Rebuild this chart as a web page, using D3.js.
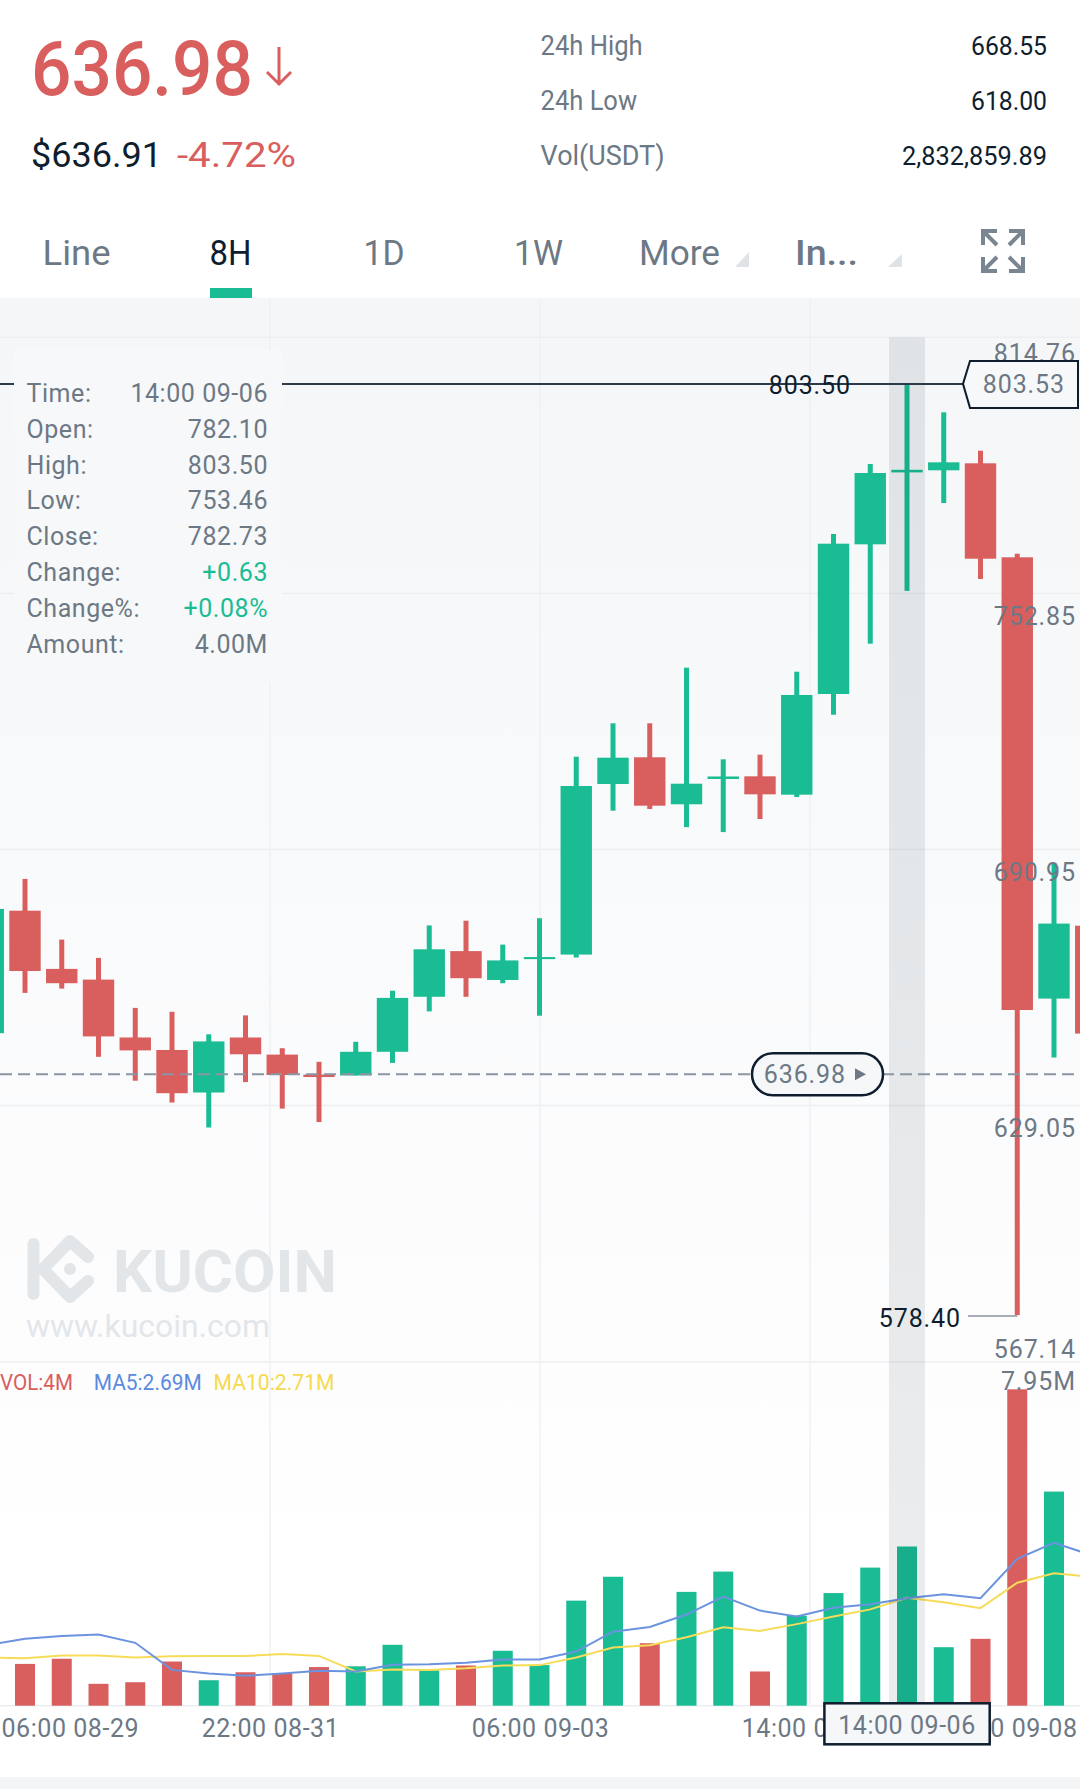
<!DOCTYPE html>
<html><head><meta charset="utf-8">
<script src="https://cdn.jsdelivr.net/npm/d3@7/dist/d3.min.js"></script>
<style>html,body{margin:0;padding:0;background:#fff}svg{display:block}text{font-family:Roboto,sans-serif}</style>
</head><body><div id="c"></div>
<script>
// candle index: -1 .. 29 (index 24 is the selected candle, 14:00 09-06)
const firstIndex = -1;
const opens  = [646.55,676.16,662.09,659.50,645.51,642.49,632.21,645.51,641.37,636.54,636.34,642.05,655.35,666.39,659.41,664.45,665.55,706.78,713.24,701.88,707.99,708.64,704.20,728.54,764.72,782.10,782.61,784.30,761.58,654.91,672.53];
const highs  = [676.57,683.84,669.17,664.75,652.66,651.72,646.28,650.85,642.92,639.63,644.47,656.82,672.60,673.74,667.96,674.34,713.38,721.46,721.46,734.90,712.75,713.87,733.93,767.21,784.13,803.50,796.63,787.35,762.45,687.71,680.00];
const lows   = [646.55,656.29,657.33,640.84,635.06,629.79,623.75,634.73,628.32,625.06,636.34,639.37,651.82,655.35,658.63,650.78,664.84,700.33,700.74,696.36,695.16,698.32,703.64,723.53,740.70,753.46,774.71,756.34,578.40,640.67,640.00];
const closes = [676.57,661.58,658.63,645.77,642.39,632.04,644.56,641.45,636.44,635.95,642.05,655.08,666.83,659.84,664.14,664.95,706.30,713.14,701.54,706.85,708.60,704.29,728.30,764.87,781.96,782.73,784.54,761.24,652.15,673.04,646.45];
const volumes = [0.90,1.05,1.18,0.55,0.59,1.11,0.64,0.84,0.82,0.97,0.99,1.53,0.89,1.01,1.38,1.02,2.64,3.24,1.57,2.86,3.37,0.86,2.26,2.83,3.47,4.00,1.47,1.68,7.95,5.38,2.20];
const volColors = ["r","r","r","r","r","r","g","r","r","r","g","g","g","r","g","g","g","g","r","g","g","r","g","g","g","g","g","r","r","g","r"];
const ma5  = [1.53,1.68,1.75,1.79,1.58,0.90,0.81,0.75,0.81,0.88,0.86,1.03,1.04,1.08,1.16,1.16,1.36,1.86,1.98,2.29,2.74,2.39,2.24,2.46,2.55,2.70,2.80,2.70,3.69,4.09,3.79];
const ma10 = [1.21,1.19,1.26,1.26,1.21,1.24,1.25,1.25,1.30,1.25,0.86,0.91,0.90,0.94,1.01,1.02,1.21,1.46,1.52,1.72,1.97,1.88,2.05,2.24,2.42,2.71,2.60,2.45,3.09,3.33,3.24];
const priceTicks = [814.76,752.85,690.95,629.05,567.14];
const timeTicks = ["06:00 08-29","22:00 08-31","06:00 09-03","14:00 09-06","22:00 09-08"];
const tooltipRows = [["Time:","14:00 09-06"],["Open:","782.10"],["High:","803.50"],["Low:","753.46"],["Close:","782.73"],["Change:","+0.63"],["Change%:","+0.08%"],["Amount:","4.00M"]];
const tabs = ["Line","8H","1D","1W","More","In..."];
const statLabels = ["24h High","24h Low","Vol(USDT)"];
const statValues = ["668.55","618.00","2,832,859.89"];

const GREEN="#1abc94",RED="#d95e5e",INK="#0e1e2e",GRAY="#6d7885";
const LS=0.55, LSP=0.9;
const svg=d3.select("#c").append("svg").attr("width",1080).attr("height",1789).attr("viewBox","0 0 1080 1789");
const defs=svg.append("defs");
const grad=defs.append("linearGradient").attr("id","bg").attr("x1",0).attr("x2",0).attr("y1",0).attr("y2",1);
[[0,"#f5f6f8"],[0.4,"#f9fafb"],[0.72,"#fdfdfe"],[0.85,"#ffffff"],[1,"#ffffff"]].forEach(s=>grad.append("stop").attr("offset",s[0]).attr("stop-color",s[1]));

const indices=d3.range(firstIndex,firstIndex+opens.length);
const x=d3.scaleLinear().domain([0,24]).range([25,907]);
const y=d3.scaleLinear().domain([814.76,567.14]).range([337.3,1361.7]);
const v=d3.scaleLinear().domain([0,7.95]).range([1705.7,1389.3]);
const tx=d3.scalePoint().domain(timeTicks).range([0,1080]);
const at=(a,i)=>a[i-firstIndex];

function t(g,str,o){
  const e=g.append("text").text(str).attr("x",o.x).attr("y",o.y).attr("font-size",o.s).attr("fill",o.c||INK)
   .attr("text-anchor",o.a||"start");
  if(o.w) e.attr("textLength",o.w).attr("lengthAdjust","spacingAndGlyphs");
  if(o.ls) e.attr("letter-spacing",o.ls);
  if(o.fw) e.attr("font-weight",o.fw);
  return e;
}

// panel background
svg.append("rect").attr("x",0).attr("y",298).attr("width",1080).attr("height",1479).attr("fill","url(#bg)");
svg.append("rect").attr("x",0).attr("y",1777).attr("width",1080).attr("height",12).attr("fill","#f4f5f7");

// grid
const grid=svg.append("g");
grid.selectAll(".h").data(priceTicks).join("line").attr("x1",0).attr("x2",1080).attr("y1",d=>y(d)).attr("y2",d=>y(d)).attr("stroke","#eceef2").attr("stroke-width",1.5);
grid.append("line").attr("x1",0).attr("x2",1080).attr("y1",v(0)).attr("y2",v(0)).attr("stroke","#eceef2").attr("stroke-width",1.5);
grid.selectAll(".v").data(timeTicks.slice(1,4)).join("line").attr("x1",d=>tx(d)).attr("x2",d=>tx(d)).attr("y1",298).attr("y2",v(0)).attr("stroke","#eef0f3").attr("stroke-width",1.5);

// watermark
const wm=svg.append("g");
wm.append("path").attr("d","M88 1257 L70 1241 L43 1269 L70 1297 L88 1281").attr("fill","none").attr("stroke","#e3e6e9").attr("stroke-width",12).attr("stroke-linejoin","round").attr("stroke-linecap","round");
wm.append("line").attr("x1",33.5).attr("x2",33.5).attr("y1",1244).attr("y2",1294).attr("stroke","#e3e6e9").attr("stroke-width",12).attr("stroke-linecap","round");
wm.append("circle").attr("cx",70).attr("cy",1269).attr("r",6).attr("fill","#e3e6e9");
t(wm,"KUCOIN",{x:113,y:1291.5,s:60,c:"#e3e6e9",w:224,fw:700});
t(wm,"www.kucoin.com",{x:26,y:1337,s:31,c:"#e3e6e9",w:244});

// candles
const cg=svg.append("g");
indices.forEach(i=>{
  const o=at(opens,i),c=at(closes,i),h=at(highs,i),l=at(lows,i);
  const col=c>=o?GREEN:RED;
  cg.append("rect").attr("x",x(i)-2.5).attr("width",5).attr("y",y(h)).attr("height",y(l)-y(h)).attr("fill",col);
  cg.append("rect").attr("x",x(i)-15.7).attr("width",31.4).attr("y",y(Math.max(o,c))).attr("height",Math.abs(y(o)-y(c))).attr("fill",col);
});

// volume bars
const vg=svg.append("g");
indices.filter(i=>i>=0).forEach(i=>{
  vg.append("rect").attr("x",x(i)-10).attr("width",20).attr("y",v(at(volumes,i))).attr("height",v(0)-v(at(volumes,i))).attr("fill",at(volColors,i)==="g"?GREEN:RED);
});
// MA lines
const line=d3.line().x(d=>x(d[0])).y(d=>v(d[1]));
svg.append("path").attr("d",line(indices.map(i=>[i,at(ma10,i)]))).attr("fill","none").attr("stroke","#f7dc5a").attr("stroke-width",2);
svg.append("path").attr("d",line(indices.map(i=>[i,at(ma5,i)]))).attr("fill","none").attr("stroke","#6b93e0").attr("stroke-width",2);

// selection band
svg.append("rect").attr("x",x(24)-18).attr("width",36).attr("y",y(814.76)).attr("height",v(0)-y(814.76)).attr("fill","rgba(10,40,50,0.085)");

// price axis
const axisY=d3.axisLeft(y).tickValues(priceTicks).tickSize(0).tickFormat(d3.format(".2f"));
const ay=svg.append("g").attr("transform","translate(1076,0)").call(axisY);
ay.select(".domain").remove();
ay.selectAll("text").attr("x",0).attr("font-size",25).attr("letter-spacing",LSP).attr("fill",GRAY).attr("font-family","Roboto")
  .attr("dy",(d,i)=>i===0?"24.5":i===4?"-4":"31");

// last-price dashed line
const py=y(636.98)+1.5;
svg.append("line").attr("x1",0).attr("x2",1076).attr("y1",py).attr("y2",py).attr("stroke","#8c95a3").attr("stroke-width",2).attr("stroke-dasharray","12 6");
svg.append("rect").attr("x",752).attr("y",py-21).attr("width",131).attr("height",42).attr("rx",21).attr("fill","#f6f7f9").attr("stroke",INK).attr("stroke-width",2.5);
t(svg,"636.98",{x:846,y:py+9,s:25,c:GRAY,a:"end",ls:LSP});
svg.append("path").attr("d",`M855 ${py-6} L866 ${py} L855 ${py+6} Z`).attr("fill",GRAY);

// low marker
svg.append("line").attr("x1",968).attr("x2",x(27)).attr("y1",y(578.40)+1).attr("y2",y(578.40)+1).attr("stroke","#8c95a3").attr("stroke-width",1.5);
t(svg,"578.40",{x:961,y:y(578.40)+11.5,s:25,c:INK,a:"end",ls:LSP});

// crosshair + tags
const cy=y(803.50);
svg.append("line").attr("x1",0).attr("x2",963).attr("y1",cy).attr("y2",cy).attr("stroke","#2a3a4a").attr("stroke-width",2);
t(svg,"803.50",{x:851,y:cy+10,s:25,c:INK,a:"end",ls:LSP});
svg.append("path").attr("d",`M963 ${cy} L970 ${cy-23} L1078 ${cy-23} L1078 ${cy+24} L970 ${cy+24} Z`).attr("fill","#f7f8f9").attr("stroke",INK).attr("stroke-width",2);
t(svg,"803.53",{x:1065,y:cy+9,s:25,c:GRAY,a:"end",ls:LSP});

// tooltip
const tip=svg.append("g");
tip.append("rect").attr("x",14).attr("y",350).attr("width",268).attr("height",333).attr("fill","#f7f8f9");
tooltipRows.forEach((r,i)=>{
  const b=401.7+i*35.9;
  t(tip,r[0],{x:26.5,y:b,s:25,c:GRAY,ls:LS});
  t(tip,r[1],{x:268,y:b,s:25,c:(i===5||i===6)?GREEN:GRAY,a:"end",ls:LS});
});

// volume legend
t(svg,"VOL:4M",{x:0,y:1390,s:22,c:"#d95e5e",w:73});
t(svg,"MA5:2.69M",{x:93.7,y:1390,s:22,c:"#5b8ade",w:108});
t(svg,"MA10:2.71M",{x:213.5,y:1390,s:22,c:"#f5d94e",w:121});
t(svg,"7.95M",{x:1076,y:1390,s:25,c:GRAY,a:"end",ls:LSP});

// time axis
const axisX=d3.axisBottom(tx).tickSize(0);
const ax=svg.append("g").attr("transform","translate(0,1710)").call(axisX);
ax.select(".domain").remove();
ax.selectAll("text").attr("font-size",25).attr("fill",GRAY).attr("font-family","Roboto").attr("letter-spacing",LS).attr("y",26.7).attr("dy",0)
  .attr("text-anchor",(d,i)=>i===0?"start":i===4?"end":"middle").attr("x",(d,i)=>i===0?1:i===4?-3:0);
svg.append("rect").attr("x",824.4).attr("y",1703.3).attr("width",165.3).attr("height",41).attr("fill","#f6f7f9").attr("stroke",INK).attr("stroke-width",2.5);
t(svg,"14:00 09-06",{x:x(24),y:1734,s:25,c:GRAY,a:"middle",ls:LS});

// header
t(svg,"636.98",{x:31,y:95,s:76,c:RED,w:222,fw:500});
svg.append("path").attr("d","M279 47 V84 M267 72 L279 84 L291 72").attr("fill","none").attr("stroke",RED).attr("stroke-width",3);
t(svg,"$636.91",{x:31,y:166.5,s:35,c:INK,w:131});
t(svg,"-4.72%",{x:177,y:166.5,s:35,c:RED,w:119});
const statY=[55,110,165], statX=[102,96.5,124], valW=[76,76,145];
statLabels.forEach((s,i)=>t(svg,s,{x:540.6,y:statY[i],s:27,c:GRAY,w:statX[i]}));
statValues.forEach((s,i)=>t(svg,s,{x:1047-valW[i],y:statY[i],s:26,c:INK,w:valW[i]}));
const tabX=[42.5,209.5,363.5,514,639,795], tabW=[68,42,41,49,81,63];
tabs.forEach((s,i)=>{const e=t(svg,s,{x:tabX[i],y:265,s:35,c:i===1?INK:GRAY,w:tabW[i]}); if(i===5) e.attr("font-weight",500);});
svg.append("rect").attr("x",210).attr("y",288).attr("width",42).attr("height",10).attr("fill",GREEN);
svg.append("path").attr("d","M735 267 L749 252 V267 Z").attr("fill","#dfe3e8");
svg.append("path").attr("d","M888 267 L902 254 V267 Z").attr("fill","#dfe3e8");
// expand icon
const icon=svg.append("g").attr("transform","translate(1003,251)").attr("fill","none").attr("stroke","#7a8592").attr("stroke-width",4);
[[1,1],[-1,1],[1,-1],[-1,-1]].forEach(m=>{
  icon.append("path").attr("transform",`scale(${m[0]},${m[1]})`).attr("d","M-20 -6 V-20 H-6 M-19 -19 L-6 -6");
});
</script></body></html>
